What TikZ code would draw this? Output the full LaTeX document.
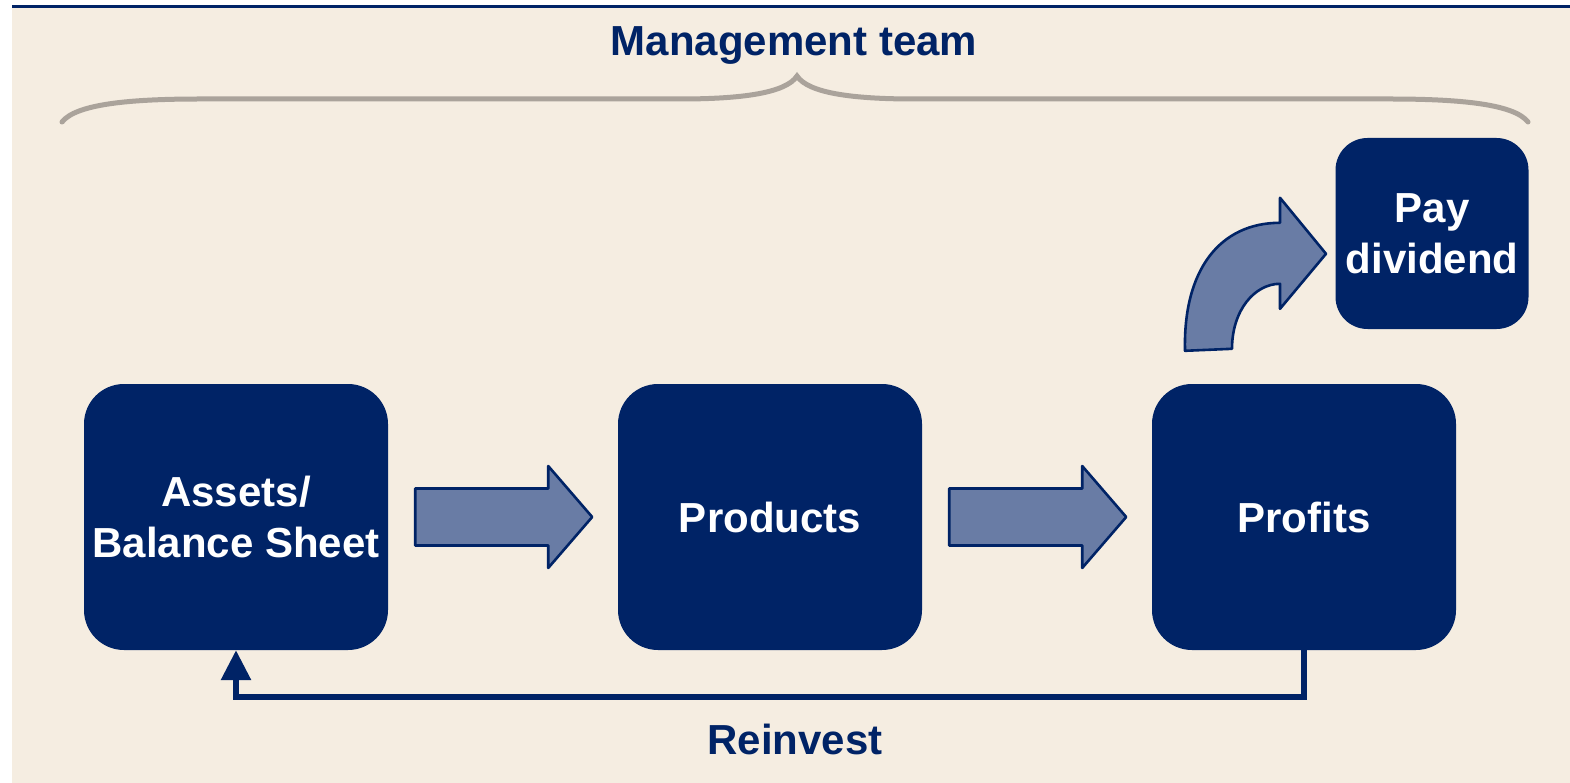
\documentclass[tikz,border=0pt]{standalone}
\usepackage{fontspec}
\setmainfont{Liberation Sans}
\usetikzlibrary{arrows.meta,calc}
\definecolor{navy}{RGB}{0,35,102}
\definecolor{paper}{RGB}{245,237,225}
\definecolor{arrowfill}{RGB}{105,124,165}
\definecolor{bracegray}{RGB}{170,163,155}
\begin{document}
\begin{tikzpicture}[x=1pt,y=-1pt,
  stagebox/.style={rectangle,fill=navy,text=white,align=center,
    minimum width=304pt,minimum height=266pt,rounded corners=40pt,
    font=\fontsize{42}{51}\selectfont\bfseries,inner sep=0pt},
  paybox/.style={stagebox,minimum width=193pt,minimum height=191pt,rounded corners=32pt},
  blockarrow/.style={fill=arrowfill,draw=navy,line width=2.6pt,line join=round},
  label/.style={text=navy,font=\fontsize{42}{51}\selectfont\bfseries,inner sep=0pt,anchor=base},
  loopline/.style={draw=navy,line width=6pt,-{Triangle[length=30pt,width=29pt]}}]
\useasboundingbox (0,0) rectangle (1570,783);
% page background and top rule
\fill[white] (0,0) rectangle (1570,783);
\fill[paper] (12,8) rectangle (1570,783);
\fill[navy] (12,5) rectangle (1570,8);

% heading and brace
\node[label] (team) at (794,56) {Management team};
\draw[bracegray,line width=5pt,line cap=round]
  (62,122) .. controls (76,104) and (130,99) .. (200,99) -- (680,99)
  .. controls (742,99) and (786,93) .. (797,76)
  .. controls (808,93) and (852,99) .. (914,99) -- (1390,99)
  .. controls (1460,99) and (1514,104) .. (1528,122);

% stages
\node[stagebox] (assets) at (236,517) {Assets/\\Balance Sheet};
\node[stagebox] (prod) at (770,517) {Products};
\node[stagebox] (prof) at (1304,517) {Profits};
\node[paybox] (pay) at (1432,233.5) {Pay\\dividend};

% block arrows between stages
\begin{scope}[shift={(assets.east)}]
  \draw[blockarrow] (27,-28.5) -- (160,-28.5) -- (160,-51) -- (204,0)
    -- (160,51) -- (160,28.5) -- (27,28.5) -- cycle;
\end{scope}
\begin{scope}[shift={(prod.east)}]
  \draw[blockarrow] (27,-28.5) -- (160,-28.5) -- (160,-51) -- (204,0)
    -- (160,51) -- (160,28.5) -- (27,28.5) -- cycle;
\end{scope}

% curved arrow from profits to dividend
\begin{scope}[shift={(prof.north)}]
  \draw[blockarrow] (-119,-33)
    .. controls (-121,-114) and (-84,-161) .. (-24,-161)
    -- (-24,-186) -- (22,-130) -- (-24,-75) -- (-24,-100)
    .. controls (-49,-100) and (-72,-74) .. (-72,-35) -- cycle;
\end{scope}

% reinvest loop
\draw[loopline] (prof.south) -- ++(0,47) -| (assets.south);
\node[label] (reinvest) at (795,754) {Reinvest};
\end{tikzpicture}
\end{document}
